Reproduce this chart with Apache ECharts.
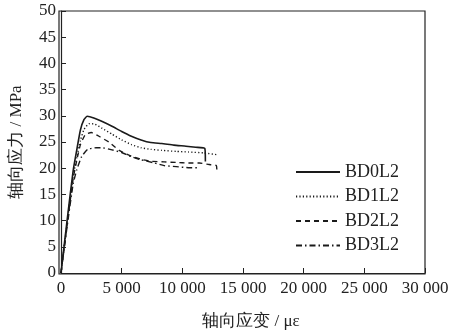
<!DOCTYPE html>
<html><head><meta charset="utf-8">
<script src="https://cdn.jsdelivr.net/npm/echarts@6/dist/echarts.min.js"></script>
<style>html,body{margin:0;padding:0;background:#fff}#c{width:453px;height:335px}</style>
</head><body><div id="c"></div>
<script>
var seriesNames = ['BD0L2','BD1L2','BD2L2','BD3L2'];
var xTicks = [0,5000,10000,15000,20000,25000,30000];
var yTicks = [0,5,10,15,20,25,30,35,40,45,50];
var BD0L2 = [[0,0],[500,10],[1000,19.5],[1300,23.5],[1600,27.3],[1900,29.3],[2150,29.9],[2700,29.6],[3400,28.9],[4200,28],[5000,27],[5800,26.1],[6600,25.4],[7400,24.9],[8300,24.7],[9300,24.4],[10300,24.2],[11100,24],[11850,23.8],[11900,21.3]];
var BD1L2 = [[0,0],[500,9.5],[1000,18.5],[1300,22],[1600,25.3],[1900,27.4],[2300,28.5],[2800,28.4],[3400,27.6],[4200,26.5],[5000,25.4],[5800,24.5],[6600,23.9],[7400,23.6],[8300,23.4],[9500,23.2],[10500,23.1],[11800,22.9],[12800,22.6]];
var BD2L2 = [[0,0],[500,9.2],[1000,18],[1300,21.5],[1600,24.5],[2000,26.4],[2500,26.8],[3200,26],[4000,24.9],[4800,23.4],[5800,22.3],[6600,21.7],[7500,21.3],[8500,21.2],[9500,21.1],[10500,21.0],[11400,21],[12200,20.7],[12800,20.5],[12850,19.2]];
var BD3L2 = [[0,0],[500,8.8],[1000,17],[1300,19.7],[1700,22.2],[2200,23.6],[2900,23.9],[3400,23.9],[4200,23.5],[5000,23],[5800,22.2],[6600,21.6],[7700,21],[8500,20.5],[9500,20.3],[10500,20.1],[11400,20.1]];
var allData = [BD0L2,BD1L2,BD2L2,BD3L2];
var dashes = ['solid',[1.2,2.2],[5,4],[6,3,1.5,3]];
var font = '"Liberation Serif","Times New Roman",serif';
var chart = echarts.init(document.getElementById('c'));
chart.setOption({
  animation:false,
  backgroundColor:'#fff',
  grid:{left:59,right:28,top:11,bottom:61},
  legend:{
    orient:'vertical', left:290, top:158, itemWidth:44, itemHeight:10, itemGap:6.5,
    textStyle:{fontFamily:font,fontSize:18,color:'#222'},
    itemStyle:{opacity:0},
    data:seriesNames
  },
  xAxis:{
    type:'value', min:0, max:30000, interval:5000,
    name:'轴向应变 / με', nameLocation:'middle', nameGap:40,
    nameTextStyle:{fontFamily:font,fontSize:17,color:'#222',padding:[0,0,0,16]},
    axisLine:{lineStyle:{color:'#222',width:1.2}},
    axisTick:{inside:true,length:5,lineStyle:{color:'#222'}},
    axisLabel:{fontFamily:font,fontSize:17,color:'#222',margin:7,
      formatter:function(v){return v>=1000? Math.floor(v/1000)+' '+String(v%1000).padStart(3,'0') : String(v);}},
    splitLine:{show:false}
  },
  yAxis:{
    type:'value', min:0, max:50, interval:5,
    name:'轴向应力 / MPa', nameLocation:'middle', nameGap:36, nameRotate:90,
    nameTextStyle:{fontFamily:font,fontSize:17,color:'#222'},
    axisLine:{show:true,lineStyle:{color:'#222',width:1.2}},
    axisTick:{show:true,inside:true,length:5,lineStyle:{color:'#222'}},
    axisLabel:{fontFamily:font,fontSize:17,color:'#222',margin:5},
    splitLine:{show:false}
  },
  series: seriesNames.map(function(n,i){
    return {name:n,type:'line',data:allData[i],symbol:'none',smooth:0.15,
      lineStyle:{color:'#1a1a1a',width:i===0?1.6:1.4,type:dashes[i]},
      itemStyle:{color:'#1a1a1a'}};
  })
});
chart.setOption({graphic:[{type:'rect',shape:{x:59,y:11,width:366,height:263},style:{fill:'none',stroke:'#222',lineWidth:1.2},silent:true,z:-1}]});
</script></body></html>
